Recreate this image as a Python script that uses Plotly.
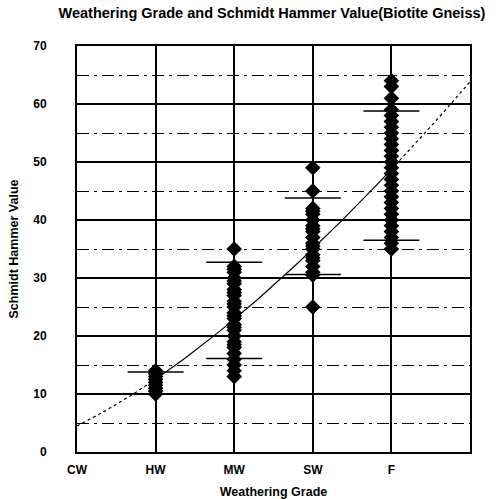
import numpy as np
import plotly.graph_objects as go

grades = ["CW", "HW", "MW", "SW", "F"]

hw_vals = [10, 10.5, 11, 11.5, 12, 12.5, 13, 13.5, 14]
mw_vals = [35, 32, 31.5, 31, 30, 29.5, 29, 28, 27.5, 27, 26, 25.5, 25, 24, 23.5, 23,
           22, 21.5, 21, 20, 19, 18.5, 18, 17, 16, 15, 14, 13]
sw_vals = [49, 45, 42, 41.5, 41, 40, 39, 38.5, 38, 37, 36, 35.5, 35, 34, 33.5, 33,
           32, 31, 30.5, 25]
f_vals = [64, 63, 61, 59, 58, 57, 56, 55, 54, 53, 52, 51, 50, 49, 48, 47, 46, 45,
          44, 43, 42, 41, 40, 39, 38, 37, 36, 35]

bar_grades = ["HW", "MW", "SW", "F"]
bar_upper = [13.8, 32.7, 43.8, 58.8]
bar_lower = [10.0, 16.1, 30.6, 36.5]

# power trendline: y = a * n^b, n = grade number (CW=1)
trend_a = 4.5
trend_b = 1.48

pos = {g: i for i, g in enumerate(grades)}

fig = go.Figure()

def trend(x):
    return trend_a * (np.asarray(x) + 1) ** trend_b

xs_l = np.linspace(0, 1, 20)
xs_m = np.linspace(1, 4, 60)
xs_r = np.linspace(4, 5, 20)
for xs, dash in [(xs_l, "dot"), (xs_m, "solid"), (xs_r, "dot")]:
    fig.add_trace(go.Scatter(x=xs, y=trend(xs), mode="lines",
                             line=dict(color="black", width=1.2, dash=dash),
                             hoverinfo="skip", showlegend=False))

for g, vals in [("HW", hw_vals), ("MW", mw_vals), ("SW", sw_vals), ("F", f_vals)]:
    fig.add_trace(go.Scatter(x=[pos[g]] * len(vals), y=vals, mode="markers",
                             marker=dict(symbol="diamond", size=12, color="black"),
                             showlegend=False))

bx = [pos[g] for g in bar_grades]
fig.add_trace(go.Scatter(x=bx + bx, y=bar_upper + bar_lower, mode="markers",
                         marker=dict(symbol="line-ew", size=40,
                                     line=dict(color="black", width=1.5)),
                         showlegend=False))

font_b = "Liberation Sans"

fig.update_layout(
    width=499, height=499,
    margin=dict(l=77, r=29, t=46, b=47),
    paper_bgcolor="white", plot_bgcolor="white",
    title=dict(text="<b>Weathering Grade and Schmidt Hammer Value(Biotite Gneiss)</b>",
               x=0.545, xanchor="center", y=0.974, yanchor="middle",
               font=dict(family=font_b, size=14.5, color="black")),
    xaxis=dict(range=[0, 5], tickvals=list(range(5)), ticktext=["<b>%s</b>" % g for g in grades],
               showgrid=True, gridcolor="black", gridwidth=1.6, automargin=False,
               showline=True, linecolor="black", linewidth=1.8, mirror=True,
               zeroline=False, ticks="", ticklabelstandoff=6,
               tickfont=dict(family=font_b, size=12, color="black"),
               title=dict(text="<b>Weathering Grade</b>", standoff=12,
                          font=dict(family=font_b, size=12.5, color="black"))),
    yaxis=dict(range=[0, 70], dtick=10, tickformat="d", automargin=False,
               showgrid=True, gridcolor="black", gridwidth=1.6,
               showline=True, linecolor="black", linewidth=1.8, mirror=True,
               zeroline=False, ticks="", ticklabelstandoff=26,
               tickprefix="<b>", ticksuffix="</b>",
               tickfont=dict(family=font_b, size=12, color="black"),
               minor=dict(dtick=5, showgrid=True, gridcolor="black", gridwidth=1.2,
                          griddash="12px,5px,3px,5px"),
               title=dict(text="<b>Schmidt Hammer Value</b>", standoff=12,
                          font=dict(family=font_b, size=12.5, color="black"))),
)

fig.write_html("out.html")
